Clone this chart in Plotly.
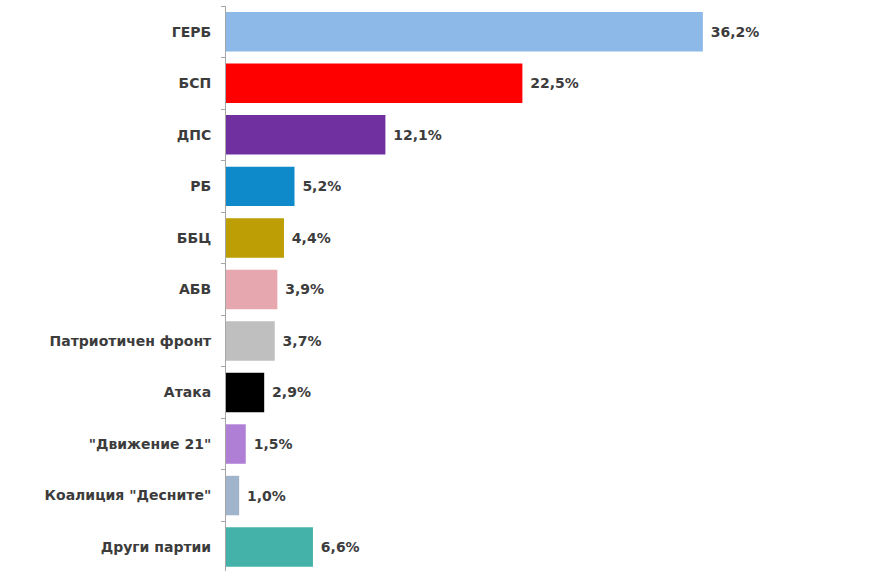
import plotly.graph_objects as go

parties = ["ГЕРБ", "БСП", "ДПС", "РБ", "ББЦ", "АБВ", "Патриотичен фронт", "Атака",
           '"Движение 21"', 'Коалиция "Десните"', "Други партии"]
shares = [36.2, 22.5, 12.1, 5.2, 4.4, 3.9, 3.7, 2.9, 1.5, 1.0, 6.6]
colors = ["#8DB9E8", "#FF0000", "#7030A0", "#0E8ACB", "#BE9E05", "#E6A8AE",
          "#BFBFBF", "#000000", "#AF7FD6", "#A0B4CC", "#44B2A8"]

# comma as decimal separator, nbsp pads the label off the bar end
labels = ["\u00a0" + ("%.1f%%" % v).replace(".", ",") for v in shares]

font_family = "DejaVu Sans, sans-serif"
text_color = "#3C3C3C"

fig = go.Figure(go.Bar(
    x=shares,
    y=parties,
    orientation="h",
    marker=dict(color=colors, line=dict(width=0)),
    width=0.766,
    text=labels,
    textposition="outside",
    textfont=dict(family=font_family, size=14, color=text_color, weight="bold"),
    cliponaxis=False,
    hoverinfo="skip",
))

fig.update_layout(
    width=882,
    height=573,
    margin=dict(l=226, r=0, t=6, b=2),
    paper_bgcolor="white",
    plot_bgcolor="white",
    showlegend=False,
    hovermode=False,
    font=dict(family=font_family, size=14, color=text_color),
)

fig.update_xaxes(range=[0, 49.8], visible=False)
fig.update_yaxes(
    range=[10.464, -0.5],
    showline=True,
    linecolor="#A6A6A6",
    linewidth=1,
    ticks="outside",
    tickson="boundaries",
    ticklen=4,
    tickcolor="#A6A6A6",
    ticklabelstandoff=11,
    tickfont=dict(family=font_family, size=14, color=text_color, weight="bold"),
    showgrid=False,
)

# drop the default body margin so the figure sits flush in the window
fig.write_html("out.html", config={"displayModeBar": False},
               post_script="document.body.style.margin = '0';")
